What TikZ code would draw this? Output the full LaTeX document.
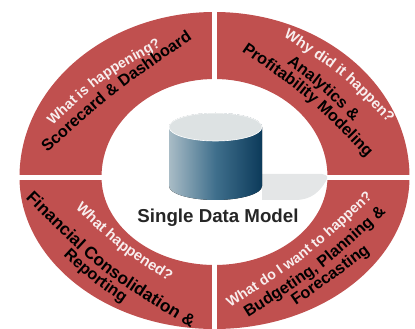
\documentclass[tikz,border=0pt]{standalone}
\usepackage{fontspec}
\setmainfont{Liberation Sans}
\usetikzlibrary{decorations.text}
\definecolor{ringred}{HTML}{C0504F}
\definecolor{capgrey}{HTML}{DDE2E3}
\definecolor{shadowgrey}{HTML}{E4E6E7}
\definecolor{cylL}{HTML}{A9BCC6}
\definecolor{cylM}{HTML}{3F6F8C}
\definecolor{cylR}{HTML}{0C3A5A}
\definecolor{softwhite}{HTML}{F8EEEE}
\newfontface\blackfont{Liberation Sans Bold}[Scale=1.62]
\newfontface\bigblackfont{Liberation Sans Bold}[Scale=1.72]
\newfontface\whitefont{Liberation Sans Bold}[Scale=1.42]
\newfontface\bigwhitefont{Liberation Sans Bold}[Scale=1.48]
\newcommand{\curvelabel}[6]{%
  \path[decorate,decoration={text along path,text align=center,
    text={|\color{#6}#5|#1}}]
    (#2) .. controls (#3) and (#3) .. (#4);}
\begin{document}
\begin{tikzpicture}[x=1pt,y=1pt]
\useasboundingbox (0,0) rectangle (415,329);
\begin{scope}
\clip (0,0) rectangle (415,329);
\fill[ringred,even odd rule]
  (19.5,152) arc[start angle=180,end angle=0,x radius=195,y radius=165]
  arc[start angle=0,end angle=-180,x radius=195,y radius=152] -- cycle
  (101.5,152) arc[start angle=180,end angle=0,x radius=113,y radius=98]
  arc[start angle=0,end angle=-180,x radius=113,y radius=88] -- cycle;
\fill[white] (212,0) rectangle (217,329);
\fill[white] (0,149) rectangle (415,154);
\end{scope}
% shadow
\fill[shadowgrey] (262,155) -- (322,155)
  .. controls (328,154) and (328,152) .. (326,148)
  .. controls (320,138) and (312,129) .. (295,129) -- (262,129) -- cycle;
% cylinder
\fill[left color=cylL,right color=cylR,middle color=cylM]
  (169,143) arc[start angle=180,end angle=360,x radius=46.5,y radius=14]
  -- (262,202) arc[start angle=0,end angle=180,x radius=46.5,y radius=14] -- cycle;
\fill[capgrey,draw=white,line width=0.6pt] (215.5,202) ellipse[x radius=46.5,y radius=14];
\node[font=\bfseries\fontsize{18.7}{18.7}\selectfont,text=black!85,inner sep=0pt] (title) at (218,111) {Single Data Model};
% labels
\curvelabel{What is happening?}{52,203}{102,250}{162,283}{\whitefont}{softwhite}
\curvelabel{Scorecard {\&} Dashboard}{46,175}{116,238}{194,291}{\blackfont}{black}
\curvelabel{Why did it happen?}{285,291}{341,255}{387,207}{\bigwhitefont}{softwhite}
\curvelabel{Analytics {\&}}{287,265}{322,239}{353,208}{\blackfont}{black}
\curvelabel{Profitability Modeling}{240,279}{309,231}{368,170}{\blackfont}{black}
\curvelabel{What happened?}{76,120}{118,80}{168,48}{\bigwhitefont}{softwhite}
\curvelabel{Financial Consolidation {\&}}{27,129}{101,56}{189,2}{\bigblackfont}{black}
\curvelabel{Reporting}{63,74}{91,48}{123,26}{\blackfont}{black}
\curvelabel{What do I want to happen?}{230,21}{306,70}{373,132}{\whitefont}{softwhite}
\curvelabel{Budgeting, Planning {\&}}{247,11}{322,58}{387,117}{\blackfont}{black}
\curvelabel{Forecasting}{297,24}{333,49}{369,76}{\blackfont}{black}
\end{tikzpicture}
\end{document}
